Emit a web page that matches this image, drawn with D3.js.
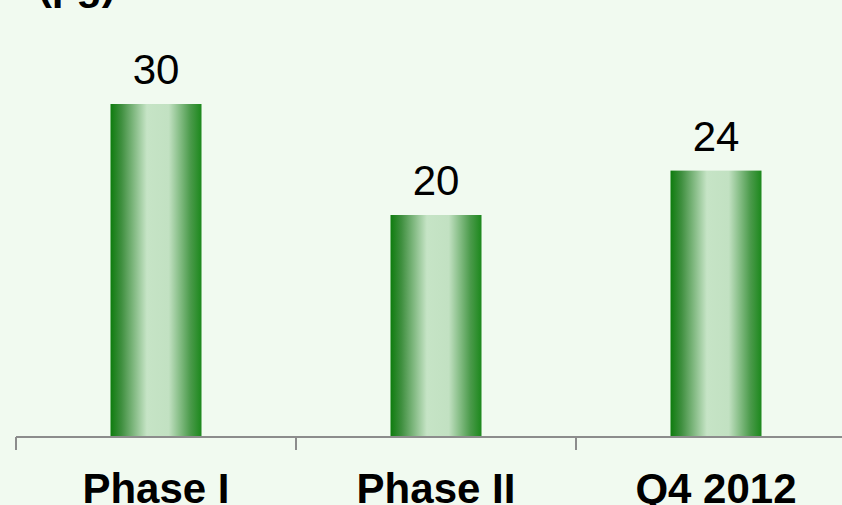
<!DOCTYPE html>
<html>
<head>
<meta charset="utf-8">
<script src="https://cdn.jsdelivr.net/npm/d3@7"></script>
<style>
  html, body { margin: 0; padding: 0; background: #f1faf0; }
  svg { display: block; font-family: Arial, "Liberation Sans", sans-serif; }
</style>
</head>
<body>
<svg id="chart" width="842" height="505"></svg>
<script>
const categories = ['Phase I', 'Phase II', 'Q4 2012'];
const values = [30, 20, 24];
const unitLabel = '(µg)';

const width = 842, height = 505;
const svg = d3.select('#chart');

svg.append('rect').attr('width', width).attr('height', height).attr('fill', '#f1faf0');

// bar gradient: dark edges, wide pale centre
const grad = svg.append('defs').append('linearGradient')
    .attr('id', 'barGrad').attr('x1', '0%').attr('x2', '100%').attr('y1', '0%').attr('y2', '0%');
grad.append('stop').attr('offset', '0%').attr('stop-color', '#0e7c0e');
grad.append('stop').attr('offset', '12%').attr('stop-color', '#3f8f3f');
grad.append('stop').attr('offset', '40%').attr('stop-color', '#c6e4c6');
grad.append('stop').attr('offset', '64%').attr('stop-color', '#c2e1c2');
grad.append('stop').attr('offset', '88%').attr('stop-color', '#4a9a4a');
grad.append('stop').attr('offset', '100%').attr('stop-color', '#1c881c');

const baseY = 437;
const x = d3.scaleBand().domain(categories).range([16, 856]).padding(0);
const y = d3.scaleLinear().domain([0, 35]).range([baseY, baseY - 35 * 11.1]);
const barW = x.bandwidth() * 0.325;

// unit label, mostly clipped at the top
svg.append('text')
    .attr('x', 38).attr('y', -1)
    .attr('font-size', '42px').attr('font-weight', 'bold').attr('fill', '#000')
    .text(unitLabel);

// bars
svg.selectAll('.bar')
    .data(values)
    .enter().append('rect')
    .attr('class', 'bar')
    .attr('x', (d, i) => x(categories[i]) + (x.bandwidth() - barW) / 2)
    .attr('width', barW)
    .attr('y', d => y(d))
    .attr('height', d => y(0) - y(d))
    .attr('fill', 'url(#barGrad)');

// value labels
svg.selectAll('.val')
    .data(values)
    .enter().append('text')
    .attr('class', 'val')
    .attr('x', (d, i) => x(categories[i]) + x.bandwidth() / 2)
    .attr('y', d => y(d) - 20)
    .attr('text-anchor', 'middle')
    .attr('font-size', '42px').attr('fill', '#000')
    .text(d => d);

// axis line + boundary ticks
const axis = svg.append('g').attr('stroke', '#8c8c8c').attr('stroke-width', 2);
axis.append('line').attr('x1', x.range()[0]).attr('x2', x.range()[1]).attr('y1', baseY).attr('y2', baseY);
const bounds = categories.map(c => x(c)).concat([x.range()[1]]);
axis.selectAll('.tick')
    .data(bounds)
    .enter().append('line')
    .attr('x1', d => d).attr('x2', d => d)
    .attr('y1', baseY).attr('y2', baseY + 13);

// category labels
svg.selectAll('.cat')
    .data(categories)
    .enter().append('text')
    .attr('class', 'cat')
    .attr('x', d => x(d) + x.bandwidth() / 2)
    .attr('y', 503)
    .attr('text-anchor', 'middle')
    .attr('font-size', '42px').attr('font-weight', 'bold').attr('fill', '#000')
    .text(d => d);
</script>
</body>
</html>
